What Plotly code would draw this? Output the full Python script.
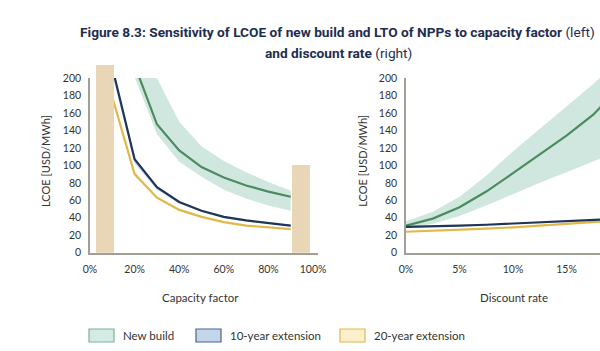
import plotly.graph_objects as go

W, H = 600, 351

# ---------------- data ----------------
cf = [10, 20, 30, 40, 50, 60, 70, 80, 90]
cf_new_mid = [None, 215, 147, 117, 98, 86, 77, 70, 64]
cf_new_hi = [None, 290, 200, 150, 122, 105, 92, 81, 71]
cf_new_lo = [None, 201, 136, 104, 87, 72, 62, 54, 48]
cf_ext10 = [212, 107, 75, 58, 48, 41, 37, 34, 31]
cf_ext10_lo = [204, 102, 72, 56, 46.5, 39.5, 35.8, 33, 30]
cf_ext20 = [178, 90, 63, 49, 41, 35, 31, 29, 27]
cf_ext20_hi = [183, 93, 65, 50.5, 42.3, 36.2, 32, 30, 28]

bar_left = [2.8, 90.5]
bar_right = [10.9, 98.5]
bar_top = [215, 100]

dr = [0, 2.5, 5, 7.5, 10, 12.5, 15, 17.5, 20]
dr_new_mid = [31, 39, 52, 70, 91, 112, 134, 158, 190]
dr_new_hi = [36, 47, 64, 88, 116, 142, 168, 193, 222]
dr_new_lo = [28, 33, 42, 54, 67, 80, 92, 105, 117]
dr_ext10 = [29.5, 30, 31, 32, 33.5, 35, 36.5, 37.5, 39]
dr_ext20 = [24, 25, 26, 27.5, 29, 31, 33, 35, 37]

y_ticks = list(range(0, 201, 20))
cf_ticks = [0, 20, 40, 60, 80, 100]
dr_ticks = [0, 5, 10, 15]

legend_names = ["New build", "10-year extension", "20-year extension"]

# ---------------- styles ----------------
GREEN = "#4b8b5f"
GREEN_BAND = "rgba(170,212,196,0.55)"
BLUE = "#1f3557"
BLUE_BAND = "rgba(160,190,220,0.5)"
GOLD = "#e2b84c"
GOLD_BAND = "rgba(250,228,170,0.6)"
BEIGE = "#e8d6b6"
AXIS = "#a39e96"
TXT = "#333333"
TITLE = "#1e2d4f"
FONT = "Lato, 'Open Sans', sans-serif"
TFONT = "Roboto, 'Liberation Sans Narrow', sans-serif"

fig = go.Figure()


def band(x, lo, hi, color, xa, ya):
    fig.add_trace(go.Scatter(x=x, y=lo, mode="lines", line=dict(width=0),
                             showlegend=False, hoverinfo="skip", xaxis=xa, yaxis=ya))
    fig.add_trace(go.Scatter(x=x, y=hi, mode="lines", line=dict(width=0), fill="tonexty",
                             fillcolor=color, showlegend=False, hoverinfo="skip",
                             xaxis=xa, yaxis=ya))


def line(x, y, color, xa, ya, w=2.2):
    fig.add_trace(go.Scatter(x=x, y=y, mode="lines", line=dict(color=color, width=w),
                             showlegend=False, xaxis=xa, yaxis=ya, connectgaps=False))


# left panel
band(cf, cf_new_lo, cf_new_hi, GREEN_BAND, "x", "y")
band(cf, cf_ext10_lo, cf_ext10, BLUE_BAND, "x", "y")
band(cf, cf_ext20, cf_ext20_hi, GOLD_BAND, "x", "y")
line(cf, cf_new_mid, GREEN, "x", "y")
line(cf, cf_ext20, GOLD, "x", "y")
line(cf, cf_ext10, BLUE, "x", "y")

# right panel
band(dr, dr_new_lo, dr_new_hi, GREEN_BAND, "x2", "y2")
line(dr, dr_new_mid, GREEN, "x2", "y2")
line(dr, dr_ext20, GOLD, "x2", "y2")
line(dr, dr_ext10, BLUE, "x2", "y2")

# beige bars on a taller, hidden y axis with the same scale (so the left one rises above 200)
fig.add_trace(go.Bar(
    x=[(a + b) / 2 for a, b in zip(bar_left, bar_right)],
    width=[b - a for a, b in zip(bar_left, bar_right)],
    y=bar_top, base=0, marker=dict(color=BEIGE, line=dict(width=0)),
    showlegend=False, xaxis="x", yaxis="y3"))


def px_x(p):
    return p / W


def px_y(p):
    return (H - p) / H


Y0PX, Y200PX = 252.7, 78.0
scale = (Y0PX - Y200PX) / 200.0
ydom = [px_y(Y0PX), px_y(Y200PX)]
Y3TOP = 216
ydom3 = [px_y(Y0PX), px_y(Y0PX - Y3TOP * scale)]

axis_common = dict(showgrid=False, zeroline=False, showline=True, linecolor=AXIS,
                   linewidth=1.5, ticks="", automargin=False,
                   tickfont=dict(family=FONT, size=10.5, color=TXT))

fig.update_layout(
    width=W, height=H, margin=dict(l=0, r=0, t=0, b=0, pad=0),
    paper_bgcolor="white", plot_bgcolor="rgba(0,0,0,0)", showlegend=False, bargap=0,
    xaxis=dict(domain=[px_x(90), px_x(317.5)], range=[0, 102], tickvals=cf_ticks,
               ticktext=[f"{v}%" for v in cf_ticks], anchor="y", ticklabelstandoff=6,
               **axis_common),
    yaxis=dict(domain=ydom, range=[0, 200], tickvals=y_ticks, anchor="x",
               ticklabelstandoff=5, **axis_common),
    yaxis3=dict(domain=ydom3, range=[0, Y3TOP], anchor="x", visible=False,
                showgrid=False, zeroline=False, automargin=False),
    xaxis2=dict(domain=[px_x(406), 1.0], range=[0, 18.13], tickvals=dr_ticks,
                ticktext=[f"{v}%" for v in dr_ticks], anchor="y2", ticklabelstandoff=6,
                **axis_common),
    yaxis2=dict(domain=ydom, range=[0, 200], tickvals=y_ticks, anchor="x2",
                ticklabelstandoff=5, **axis_common),
)


def note(xp, yp, text, size, color=TXT, family=FONT, xanchor="center", angle=0):
    return dict(x=px_x(xp), y=px_y(yp), xref="paper", yref="paper", showarrow=False,
                xanchor=xanchor, yanchor="middle", textangle=angle, text=text,
                font=dict(family=family, size=size, color=color))


ann = []
# title
ann.append(note(337.5, 32,
                "<b>Figure 8.3: Sensitivity of LCOE of new build and LTO of NPPs to capacity factor</b> (left)",
                13.7, TITLE, TFONT))
ann.append(note(339, 53, "<b>and discount rate</b> (right)", 13.7, TITLE, TFONT))
# axis titles
for xp in (45, 361.7):
    ann.append(note(xp, 161, "LCOE [USD/MWh]", 11, angle=-90))
ann.append(note(200, 297, "Capacity factor", 11.5))
ann.append(note(514, 297, "Discount rate", 11.5))

# legend
shapes = []
leg_patch_x = [89, 196, 340]
leg_fill = ["#d3ebe2", "#c4d6ea", "#fcefcb"]
leg_border = ["#7fb097", "#4a6688", "#e2b84c"]
for i, name in enumerate(legend_names):
    x0 = leg_patch_x[i]
    shapes.append(dict(type="rect", xref="paper", yref="paper",
                       x0=px_x(x0), x1=px_x(x0 + 25), y0=px_y(342), y1=px_y(329),
                       fillcolor=leg_fill[i], line=dict(color=leg_border[i], width=1.2)))
    ann.append(note(x0 + 32, 335.5, name, 11.5, xanchor="left"))

fig.update_layout(annotations=ann, shapes=shapes)
fig.write_html("out.html")
